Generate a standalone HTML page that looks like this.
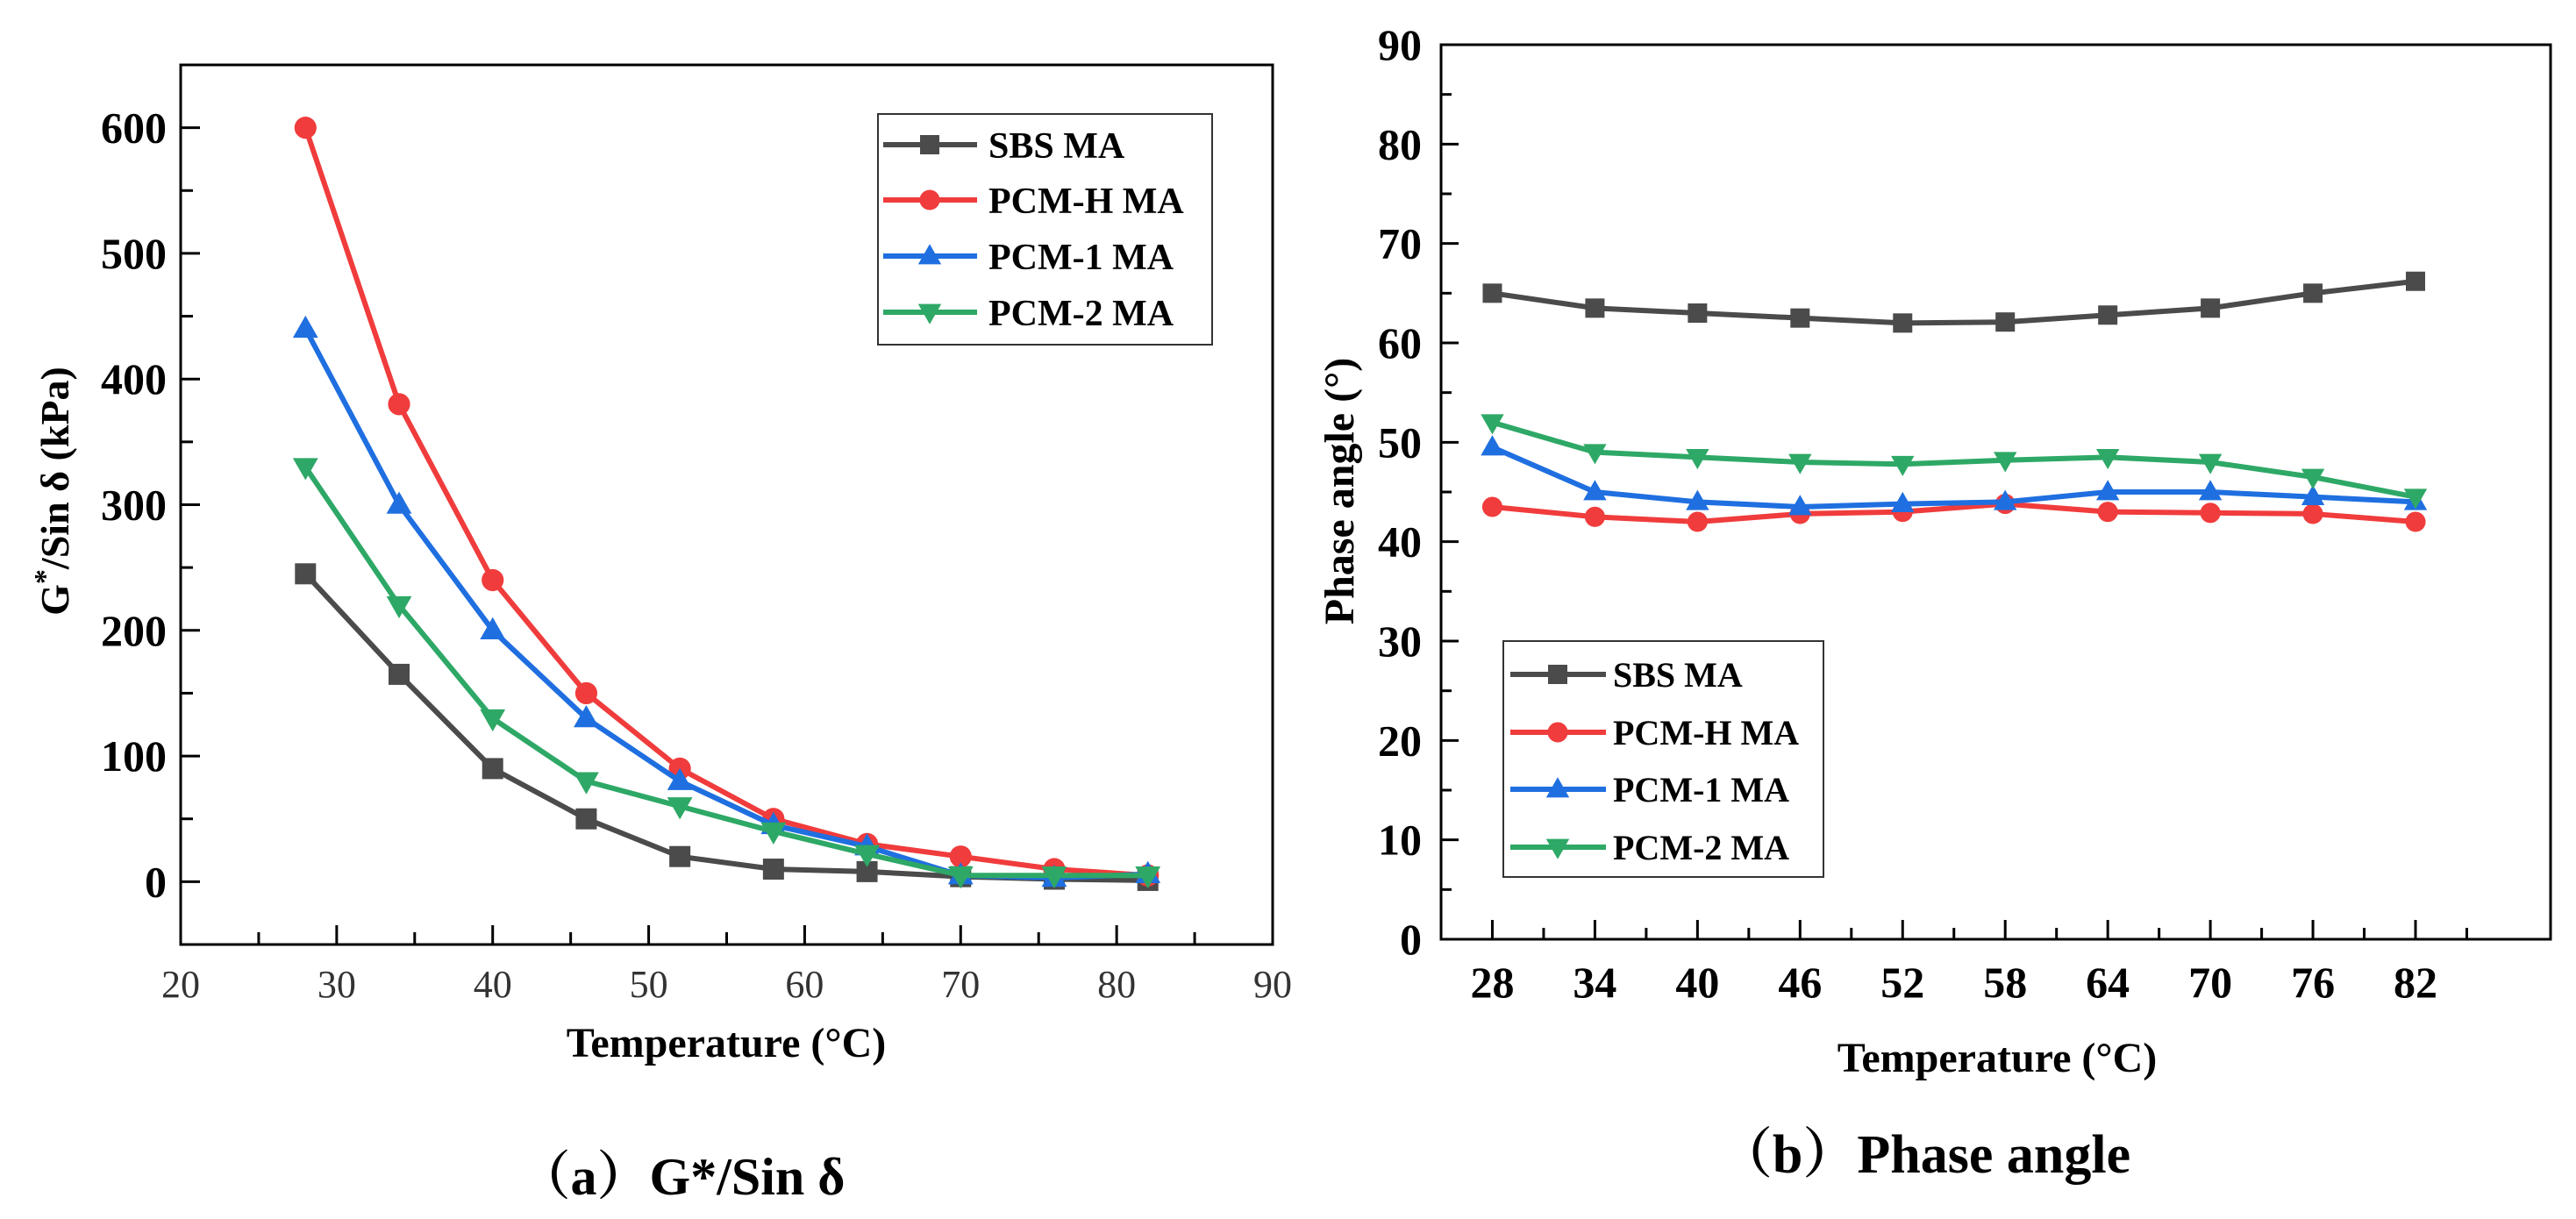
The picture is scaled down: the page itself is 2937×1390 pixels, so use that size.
<!DOCTYPE html>
<html><head><meta charset="utf-8">
<style>
html,body{margin:0;padding:0;background:#fff;}
svg{display:block;font-family:"Liberation Serif","Noto Serif CJK SC",serif;}
</style></head>
<body>
<svg id="fig" width="2937" height="1390" viewBox="0 0 2937 1390" xmlns="http://www.w3.org/2000/svg">
<g id="chartA"></g>
<g id="chartB"></g>
</svg>
<script>
const seriesNames = ["SBS MA","PCM-H MA","PCM-1 MA","PCM-2 MA"];
const temps = [28,34,40,46,52,58,64,70,76,82];
const gSBS  = [245,165,90,50,20,10,8,4,2,1];
const gPCMH = [600,380,240,150,90,50,30,20,10,5];
const gPCM1 = [440,300,200,130,80,45,28,5,3,6];
const gPCM2 = [330,220,130,80,60,40,22,5,5,5];
const pSBS  = [65,63.5,63,62.5,62,62.1,62.8,63.5,65,66.2];
const pPCMH = [43.5,42.5,42,42.8,43,43.8,43,42.9,42.8,42];
const pPCM1 = [49.5,45,44,43.5,43.8,44,45,45,44.5,44];
const pPCM2 = [52,49,48.5,48,47.8,48.2,48.5,48,46.5,44.5];
const aXTicks = [20,30,40,50,60,70,80,90];
const aYTicks = [0,100,200,300,400,500,600];
const bYTicks = [0,10,20,30,40,50,60,70,80,90];

const colors = ["#4b4b4b","#f03c3c","#1f6fe0","#2ea866"];
const markers = ["square","circle","up","down"];
const NS = "http://www.w3.org/2000/svg";
function mk(parent, tag, attrs, text){
  const e = document.createElementNS(NS, tag);
  for (const k in attrs) e.setAttribute(k, attrs[k]);
  if (text !== undefined) e.textContent = text;
  parent.appendChild(e); return e;
}
function marker(g, type, x, y, r, color){
  let e;
  if (type==="square") e = mk(g,"rect",{x:x-r,y:y-r,width:2*r,height:2*r,fill:color});
  else if (type==="circle") e = mk(g,"circle",{cx:x,cy:y,r:r*1.05,fill:color});
  else if (type==="up") e = mk(g,"polygon",{points:`${x},${y-r*1.25} ${x-r*1.2},${y+r*0.85} ${x+r*1.2},${y+r*0.85}`,fill:color});
  else e = mk(g,"polygon",{points:`${x},${y+r*1.25} ${x-r*1.2},${y-r*0.85} ${x+r*1.2},${y-r*0.85}`,fill:color});
  return e;
}

// ---------- Chart A ----------
(function(){
  const g = document.getElementById("chartA");
  const L=206,R=1451,T=74,B=1077, x0=20,x1=90,y0=-50,y1=650;
  const sx = v => L+(v-x0)/(x1-x0)*(R-L);
  const sy = v => B-(v-y0)/(y1-y0)*(B-T);
  const data=[gSBS,gPCMH,gPCM1,gPCM2];
  data.forEach((arr,si)=>{
    const sg = mk(g,"g",{});
    
    
    mk(sg,"polyline",{points:arr.map((v,i)=>sx(temps[i])+","+sy(v)).join(" "),fill:"none",stroke:colors[si],"stroke-width":6,"stroke-linejoin":"round"});
    arr.forEach((v,i)=>{
      const m = marker(sg,markers[si],sx(temps[i]),sy(v),12,colors[si]);
      
      
    });
  });
  const fr = mk(g,"rect",{x:L,y:T,width:R-L,height:B-T,fill:"none",stroke:"#000","stroke-width":3});
  
  
  for(let v=x0; v<=x1; v+=5){
    const maj = v%10===0;
    mk(g,"line",{x1:sx(v),x2:sx(v),y1:B,y2:B-(maj?22:14),stroke:"#000","stroke-width":3});
  }
  aXTicks.forEach(v=>{
    const t = mk(g,"text",{x:sx(v),y:B+60,"text-anchor":"middle","font-size":44,fill:"#333"},String(v));
    
    
  });
  for(let v=-50; v<=650; v+=50){
    const maj = v%100===0;
    mk(g,"line",{x1:L,x2:L+(maj?22:14),y1:sy(v),y2:sy(v),stroke:"#000","stroke-width":3});
  }
  aYTicks.forEach(v=>{
    const t = mk(g,"text",{x:L-16,y:sy(v)+17,"text-anchor":"end","font-size":50,"font-weight":"bold"},String(v));
    
    
  });
  const yt = mk(g,"text",{x:0,y:0,transform:"translate(78,560) rotate(-90)","text-anchor":"middle","font-size":46,"font-weight":"bold"});
  
  
  yt.innerHTML = 'G<tspan dy="-16" font-size="34">*</tspan><tspan dy="16">/Sin δ (kPa)</tspan>';
  const xt = mk(g,"text",{x:828,y:1205,"text-anchor":"middle","font-size":48,"font-weight":"bold"},"Temperature (°C)");
  
  
  const cap = mk(g,"text",{x:777,y:1362,"text-anchor":"middle","font-size":60,"font-weight":"bold"},"（a）G*/Sin δ");
  
  
  const lg = mk(g,"g",{});
  
  
  mk(lg,"rect",{x:1001,y:130,width:381,height:263,fill:"#fff",stroke:"#333","stroke-width":2});
  const ly=[165,228,292,356];
  seriesNames.forEach((n,i)=>{
    const e = mk(lg,"g",{});
    
    
    mk(e,"line",{x1:1007,x2:1114,y1:ly[i],y2:ly[i],stroke:colors[i],"stroke-width":6});
    marker(e,markers[i],1060,ly[i],11,colors[i]);
    mk(e,"text",{x:1127,y:ly[i]+15,"font-size":42,"font-weight":"bold"},n);
  });
})();

// ---------- Chart B ----------
(function(){
  const g = document.getElementById("chartB");
  const L=1643,R=2908,T=51,B=1071, x0=25,x1=89.9,y0=0,y1=90;
  const sx = v => L+(v-x0)/(x1-x0)*(R-L);
  const sy = v => B-(v-y0)/(y1-y0)*(B-T);
  const data=[pSBS,pPCMH,pPCM1,pPCM2];
  data.forEach((arr,si)=>{
    const sg = mk(g,"g",{});
    
    
    mk(sg,"polyline",{points:arr.map((v,i)=>sx(temps[i])+","+sy(v)).join(" "),fill:"none",stroke:colors[si],"stroke-width":6,"stroke-linejoin":"round"});
    arr.forEach((v,i)=>{
      const m = marker(sg,markers[si],sx(temps[i]),sy(v),11,colors[si]);
      
      
    });
  });
  const fr = mk(g,"rect",{x:L,y:T,width:R-L,height:B-T,fill:"none",stroke:"#000","stroke-width":3});
  
  
  temps.forEach(v=>{
    mk(g,"line",{x1:sx(v),x2:sx(v),y1:B,y2:B-22,stroke:"#000","stroke-width":3});
    mk(g,"line",{x1:sx(v+3),x2:sx(v+3),y1:B,y2:B-13,stroke:"#000","stroke-width":3});
    const t = mk(g,"text",{x:sx(v),y:B+66,"text-anchor":"middle","font-size":50,"font-weight":"bold"},String(v));
    
    
  });
  for(let v=0; v<=90; v+=5){
    const maj = v%10===0;
    mk(g,"line",{x1:L,x2:L+(maj?20:12),y1:sy(v),y2:sy(v),stroke:"#000","stroke-width":3});
  }
  bYTicks.forEach(v=>{
    const t = mk(g,"text",{x:L-22,y:sy(v)+17,"text-anchor":"end","font-size":50,"font-weight":"bold"},String(v));
    
    
  });
  const yt = mk(g,"text",{x:0,y:0,transform:"translate(1543,560) rotate(-90)","text-anchor":"middle","font-size":48,"font-weight":"bold"},"Phase angle (°)");
  
  
  const xt = mk(g,"text",{x:2277,y:1222,"text-anchor":"middle","font-size":48,"font-weight":"bold"},"Temperature (°C)");
  
  
  const cap = mk(g,"text",{x:2194,y:1337,"text-anchor":"middle","font-size":62,"font-weight":"bold"},"（b）Phase angle");
  
  
  const lg = mk(g,"g",{});
  
  
  mk(lg,"rect",{x:1714,y:731,width:365,height:269,fill:"#fff",stroke:"#333","stroke-width":2});
  const ly=[769,835,900,966];
  seriesNames.forEach((n,i)=>{
    const e = mk(lg,"g",{});
    
    
    mk(e,"line",{x1:1722,x2:1831,y1:ly[i],y2:ly[i],stroke:colors[i],"stroke-width":6});
    marker(e,markers[i],1776,ly[i],11,colors[i]);
    mk(e,"text",{x:1839,y:ly[i]+14,"font-size":40,"font-weight":"bold"},n);
  });
})();
</script>
</body></html>
